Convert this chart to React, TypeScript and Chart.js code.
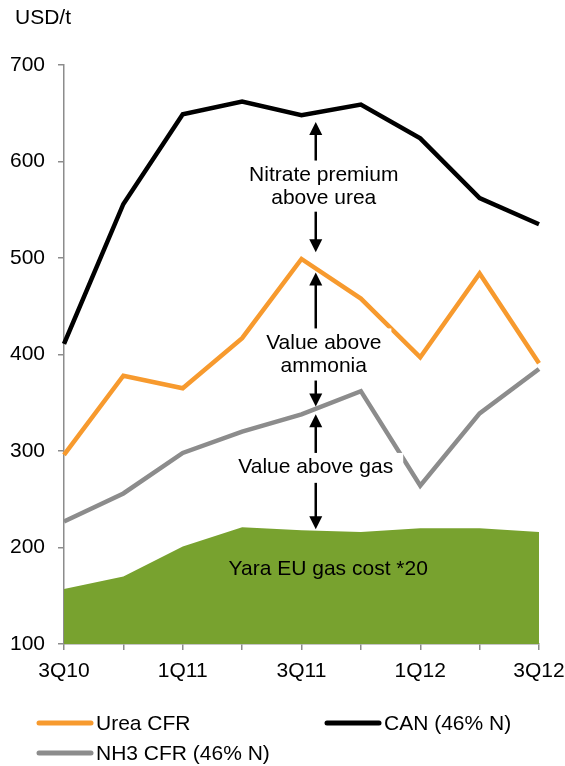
import React, { useEffect, useRef } from 'react';
import { Chart, registerables } from 'chart.js';

Chart.register(...registerables);

const categories = ['3Q10', '4Q10', '1Q11', '2Q11', '3Q11', '4Q11', '1Q12', '2Q12', '3Q12'];
const canValues = [411, 556, 649, 662, 648, 659, 624, 562, 535];
const ureaValues = [296, 378, 365, 417, 499, 458, 397, 484, 391];
const nh3Values = [227, 256, 298, 320, 338, 362, 264, 339, 385];
const gasValues = [157, 170, 201, 221, 218, 216, 220, 220, 216];
const yTicks = [100, 200, 300, 400, 500, 600, 700];

const seriesNames = ['Urea CFR', 'CAN (46% N)', 'NH3 CFR (46% N)', 'Yara EU gas cost *20'];
const unitLabel = 'USD/t';

// annotation arrows (in data units: category index, value)
const arrowX = 4.24;
const arrows = [
  { from: 641, to: 506, lines: ['Nitrate premium', 'above urea'], textAt: [586, 562], box: [601, 548] },
  { from: 485, to: 346, lines: ['Value above', 'ammonia'], textAt: [412, 388], box: [427, 373] },
  { from: 338, to: 219, lines: ['Value above gas'], textAt: [283], box: [298, 267] },
];
const gasTextPos = { x: 4.45, y: 178 };

const FONT = '"Liberation Sans", Arial, Helvetica, sans-serif';
const ORANGE = '#f79a2e';
const BLACK = '#000000';
const GRAY = '#8c8c8c';
const GREEN = '#78a22f';
const AXIS = '#8c8c8c';

export default function App() {
  const ref = useRef<HTMLCanvasElement>(null);

  useEffect(() => {
    const overlay = {
      id: 'overlay',
      afterDatasetsDraw(chart: any) {
        const ctx = chart.ctx as CanvasRenderingContext2D;
        const xs = chart.scales.x;
        const ys = chart.scales.y;
        ctx.save();
        ctx.font = `21px ${FONT}`;
        ctx.textAlign = 'center';
        ctx.textBaseline = 'middle';
        ctx.fillStyle = '#000';
        ctx.fillText(seriesNames[3], xs.getPixelForValue(gasTextPos.x), ys.getPixelForValue(gasTextPos.y));

        const ax = xs.getPixelForValue(arrowX);
        for (const a of arrows) {
          const y1 = ys.getPixelForValue(a.from);
          const y2 = ys.getPixelForValue(a.to);
          const head = 13;
          const hw = 6.5;
          ctx.strokeStyle = '#000';
          ctx.fillStyle = '#000';
          ctx.lineWidth = 2.5;
          ctx.beginPath();
          ctx.moveTo(ax, y1 + head - 1);
          ctx.lineTo(ax, y2 - head + 1);
          ctx.stroke();
          ctx.beginPath();
          ctx.moveTo(ax, y1);
          ctx.lineTo(ax - hw, y1 + head);
          ctx.lineTo(ax + hw, y1 + head);
          ctx.closePath();
          ctx.fill();
          ctx.beginPath();
          ctx.moveTo(ax, y2);
          ctx.lineTo(ax - hw, y2 - head);
          ctx.lineTo(ax + hw, y2 - head);
          ctx.closePath();
          ctx.fill();
          let maxW = 0;
          for (const l of a.lines) maxW = Math.max(maxW, ctx.measureText(l).width);
          const cx = ax + (a.lines.length === 1 ? 0 : 8);
          const bTop = ys.getPixelForValue(a.box[0]);
          const bBot = ys.getPixelForValue(a.box[1]);
          ctx.fillStyle = '#fff';
          ctx.fillRect(cx - maxW / 2 - 10, bTop, maxW + 20, bBot - bTop);
          ctx.fillStyle = '#000';
          a.lines.forEach((l, i) => {
            ctx.fillText(l, cx, ys.getPixelForValue(a.textAt[i]));
          });
        }
        ctx.restore();
      },
      afterDraw(chart: any) {
        const ctx = chart.ctx as CanvasRenderingContext2D;
        ctx.save();
        ctx.font = `21px ${FONT}`;
        ctx.textBaseline = 'middle';
        ctx.textAlign = 'left';
        ctx.fillStyle = '#000';
        ctx.fillText(unitLabel, 15, 18);
        const items = [
          { name: seriesNames[0], color: ORANGE, x: 37, y: 723 },
          { name: seriesNames[1], color: BLACK, x: 325, y: 723 },
          { name: seriesNames[2], color: GRAY, x: 37, y: 753 },
        ];
        for (const it of items) {
          ctx.strokeStyle = it.color;
          ctx.lineWidth = 5;
          ctx.lineCap = 'round';
          ctx.beginPath();
          ctx.moveTo(it.x + 2, it.y);
          ctx.lineTo(it.x + 54, it.y);
          ctx.stroke();
          ctx.fillStyle = '#000';
          ctx.fillText(it.name, it.x + 59, it.y + 1);
        }
        ctx.restore();
      },
    };

    const chart = new Chart(ref.current as HTMLCanvasElement, {
      type: 'line',
      data: {
        labels: categories,
        datasets: [
          { label: seriesNames[0], data: ureaValues, borderColor: ORANGE, borderWidth: 4.5, pointRadius: 0, tension: 0, fill: false },
          { label: seriesNames[1], data: canValues, borderColor: BLACK, borderWidth: 4.5, pointRadius: 0, tension: 0, fill: false },
          { label: seriesNames[2], data: nh3Values, borderColor: GRAY, borderWidth: 4.5, pointRadius: 0, tension: 0, fill: false },
          { label: seriesNames[3], data: gasValues, borderColor: GREEN, backgroundColor: GREEN, borderWidth: 0, pointRadius: 0, tension: 0, fill: 'start' },
        ],
      },
      options: {
        responsive: false,
        maintainAspectRatio: false,
        animation: false,
        devicePixelRatio: 1,
        layout: { padding: { left: 0, top: 65, right: 26, bottom: 0 } },
        plugins: { legend: { display: false }, tooltip: { enabled: false } },
        scales: {
          x: {
            type: 'category',
            offset: false,
            afterFit: (s: any) => { s.height = 122; s.paddingLeft = 0; s.paddingRight = 0; },
            grid: { display: true, drawOnChartArea: false, drawTicks: true, tickLength: 6, color: AXIS, lineWidth: 1.5 },
            border: { display: true, color: AXIS, width: 1.5 },
            ticks: {
              autoSkip: false,
              maxRotation: 0,
              minRotation: 0,
              padding: 9,
              color: '#000',
              font: { family: FONT, size: 21 },
              callback: (_v: any, i: number) => (i % 2 === 0 ? categories[i] : ''),
            },
          },
          y: {
            min: 100,
            max: 700,
            afterFit: (s: any) => { s.width = 64; s.paddingTop = 0; s.paddingBottom = 0; },
            afterBuildTicks: (s: any) => { s.ticks = yTicks.map((v) => ({ value: v })); },
            grid: { display: true, drawOnChartArea: false, drawTicks: true, tickLength: 6, color: AXIS, lineWidth: 1.5 },
            border: { display: true, color: AXIS, width: 1.5 },
            ticks: { padding: 13, color: '#000', font: { family: FONT, size: 21 } },
          },
        },
      },
      plugins: [overlay],
    });
    return () => chart.destroy();
  }, []);

  return (
    <div style={{ position: 'absolute', left: 0, top: 0, width: 565, height: 766, background: '#fff' }}>
      <canvas ref={ref} width={565} height={766} style={{ width: 565, height: 766, display: 'block' }} />
    </div>
  );
}
